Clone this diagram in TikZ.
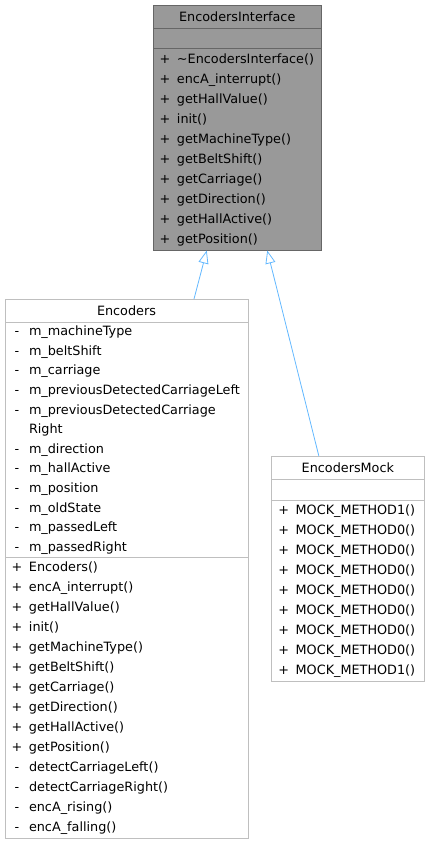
\documentclass[tikz,border=0pt]{standalone}
\usepackage{fontspec}
\setmainfont{DejaVu Sans}
\usetikzlibrary{positioning,arrows.meta}

\definecolor{ifacefill}{HTML}{999999}
\definecolor{ifaceline}{HTML}{666666}
\definecolor{boxline}{HTML}{BFBFBF}
\definecolor{edgeblue}{HTML}{63B8FF}
\newcommand{\mem}[2]{\makebox[12pt][c]{#1}\hspace{6pt}#2\strut}

\begin{document}
\begin{tikzpicture}[
  x=1pt, y=-1pt,
  font=\fontsize{12.8}{20}\selectfont,
  cls/.style={rectangle, draw=boxline, line width=0.8pt, fill=white,
              inner sep=0pt, outer sep=0pt},
  head/.style={cls, minimum height=23pt, anchor=north, align=center},
  sec/.style={cls, align=left, text width=#1, inner xsep=6pt, inner ysep=0pt},
  ifc/.style={fill=ifacefill, draw=ifaceline},
  inh/.style={{Triangle[open,length=13pt,width=10pt]}-, draw=edgeblue, line width=0.8pt}
]
\useasboundingbox (0,0) rectangle (429,844);

% interface
\node[head, ifc, minimum width=168.5pt] (ifaceT) at (237.25,5) {EncodersInterface};
\node[sec=156.5pt, ifc, minimum height=20pt, below=0pt of ifaceT] (ifaceA) {};
\node[sec=156.5pt, ifc, minimum height=202.5pt, below=0pt of ifaceA] (ifaceM) {%
  \mem{+}{\textasciitilde EncodersInterface()}\\ \mem{+}{encA\_interrupt()}\\
  \mem{+}{getHallValue()}\\ \mem{+}{init()}\\ \mem{+}{getMachineType()}\\
  \mem{+}{getBeltShift()}\\ \mem{+}{getCarriage()}\\ \mem{+}{getDirection()}\\
  \mem{+}{getHallActive()}\\ \mem{+}{getPosition()}};

% implementation
\node[head, minimum width=243pt] (encT) at (126.5,299) {Encoders};
\node[sec=231pt, minimum height=235pt, below=0pt of encT,
      font=\fontsize{12.8}{19.6}\selectfont] (encA) {%
  \mem{-}{m\_machineType}\\ \mem{-}{m\_beltShift}\\ \mem{-}{m\_carriage}\\
  \mem{-}{m\_previousDetectedCarriageLeft}\\
  \mem{-}{m\_previousDetectedCarriage}\\ \hspace*{18pt}Right\strut\\
  \mem{-}{m\_direction}\\ \mem{-}{m\_hallActive}\\ \mem{-}{m\_position}\\
  \mem{-}{m\_oldState}\\ \mem{-}{m\_passedLeft}\\ \mem{-}{m\_passedRight}};
\node[sec=231pt, minimum height=281.5pt, below=0pt of encA] (encM) {%
  \mem{+}{Encoders()}\\ \mem{+}{encA\_interrupt()}\\ \mem{+}{getHallValue()}\\
  \mem{+}{init()}\\ \mem{+}{getMachineType()}\\ \mem{+}{getBeltShift()}\\
  \mem{+}{getCarriage()}\\ \mem{+}{getDirection()}\\ \mem{+}{getHallActive()}\\
  \mem{+}{getPosition()}\\ \mem{-}{detectCarriageLeft()}\\
  \mem{-}{detectCarriageRight()}\\ \mem{-}{encA\_rising()}\\ \mem{-}{encA\_falling()}};

% mock
\node[head, minimum width=152.3pt] (mockT) at (347.85,456) {EncodersMock};
\node[sec=140.3pt, minimum height=21pt, below=0pt of mockT] (mockA) {};
\node[sec=140.3pt, minimum height=181pt, below=0pt of mockA] (mockM) {%
  \mem{+}{MOCK\_METHOD1()}\\ \mem{+}{MOCK\_METHOD0()}\\ \mem{+}{MOCK\_METHOD0()}\\
  \mem{+}{MOCK\_METHOD0()}\\ \mem{+}{MOCK\_METHOD0()}\\ \mem{+}{MOCK\_METHOD0()}\\
  \mem{+}{MOCK\_METHOD0()}\\ \mem{+}{MOCK\_METHOD0()}\\ \mem{+}{MOCK\_METHOD1()}};

\draw[inh] ([xshift=-30.5pt]ifaceM.south) -- ([xshift=67.5pt]encT.north);
\draw[inh] ([xshift=30pt]ifaceM.south) -- ([xshift=-29pt]mockT.north);
\end{tikzpicture}
\end{document}
